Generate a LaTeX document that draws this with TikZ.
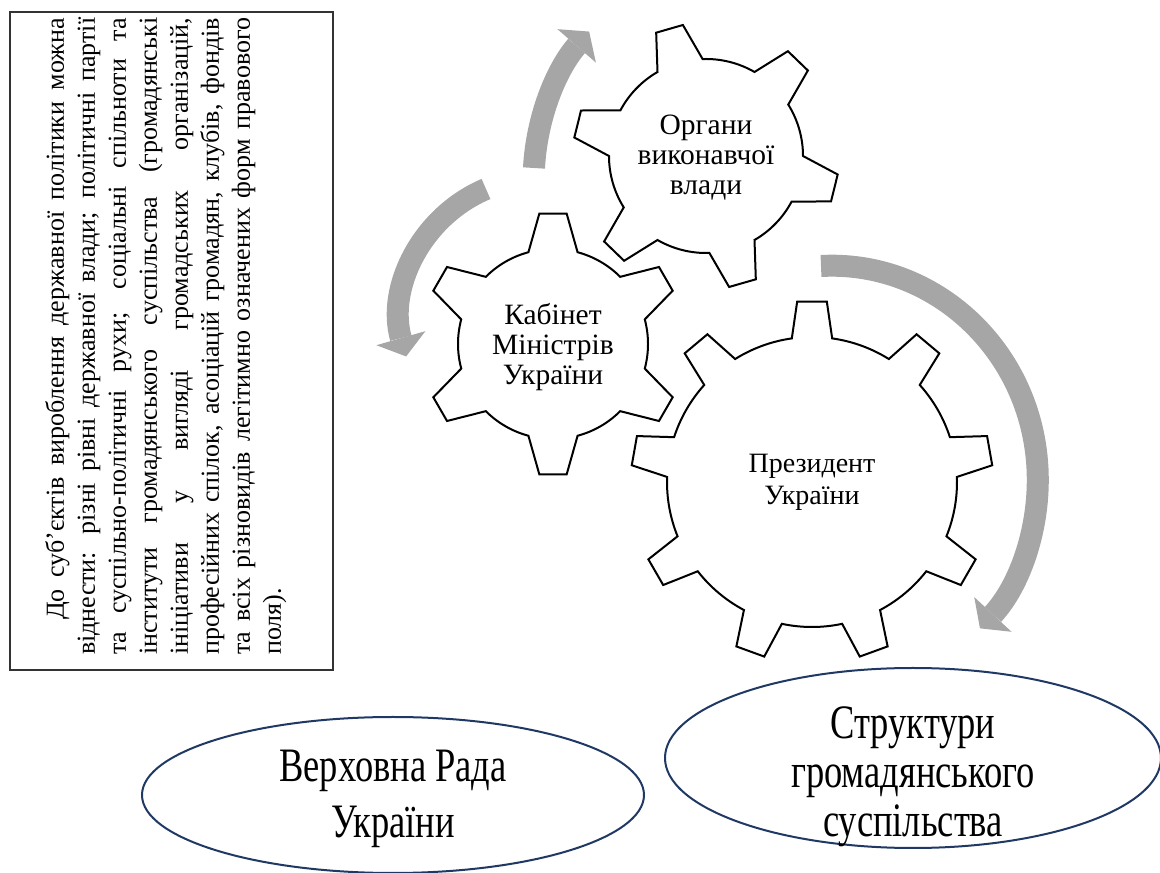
\documentclass[tikz,border=0pt]{standalone}
\usepackage{fontspec}
\setmainfont{Liberation Serif}
\newfontfamily\narrowserif[FakeStretch=0.76]{Liberation Serif}
\usetikzlibrary{arrows.meta,shapes.geometric}
\definecolor{arrowgray}{RGB}{166,166,166}
\definecolor{ovalblue}{RGB}{32,56,100}
\tikzset{
  gearline/.style={draw=black,line width=2pt,fill=white,line join=miter},
  bentarrow/.style={draw=arrowgray,line width=22pt,
    -{Triangle[length=19pt,width=51pt,line width=0pt]}},
  geartext/.style={align=center,font=\fontsize{29.5}{30}\selectfont},
  oval/.style={ellipse,draw=ovalblue,line width=2pt,inner sep=0pt},
  ovaltext/.style={align=center,font=\narrowserif\fontsize{48}{56}\selectfont}
}
\begin{document}
\begin{tikzpicture}[x=1pt,y=1pt]
      \useasboundingbox (0,0) rectangle (1160,873);

      % note box on the left
      \draw[black!80,line width=1.5pt] (10,861) rectangle (333,203);
      \node[rotate=90,anchor=north west,inner sep=0pt,text width=637pt,
            align=justify,font=\fontsize{26}{31}\selectfont] (note) at (45,218)
            {\hyphenpenalty=10000\exhyphenpenalty=10000
             \hspace*{35pt}До суб’єктів вироблення державної політики можна\linebreak
             віднести: різні рівні державної влади; політичні партії\linebreak
             та суспільно-політичні рухи; соціальні спільноти та\linebreak
             інститути громадянського суспільства (громадянські\linebreak
             ініціативи у вигляді громадських організацій,\linebreak
             професійних спілок, асоціацій громадян, клубів, фондів\linebreak
             та всіх різновидів легітимно означених форм правового\linebreak
             поля).};

      % arrows
      \draw[bentarrow] (534,705) arc(177:139:226);
      \draw[bentarrow] (486,684) arc(113:196:140);
      \draw[bentarrow] (821,607)
            arc[start angle=93,end angle=-44,x radius=206,y radius=214];

      % gears
      \begin{scope}[shift={(706,717)}]
        \draw[gearline] ({106+14}:97) \foreach \k in {1,...,6} {
              arc[start angle=106+(\k-1)*60+14,end angle=106+\k*60-14,radius=97]
              -- ({106+\k*60-6}:133) -- ({106+\k*60+6}:133)
              -- ({106+\k*60+14}:97)} -- cycle;
        \node[geartext] (organy) at (0,-2) {Органи\\виконавчої\\влади};
      \end{scope}

      \begin{scope}[shift={(553,529)}]
        \draw[gearline] ({90+15}:95) \foreach \k in {1,...,6} {
              arc[start angle=90+(\k-1)*60+15,end angle=90+\k*60-15,radius=95]
              -- ({90+\k*60-6}:131) -- ({90+\k*60+6}:131)
              -- ({90+\k*60+15}:95)} -- cycle;
        \node[geartext] (kabmin) at (0,-3) {Кабінет\\Міністрів\\України};
      \end{scope}

      \begin{scope}[shift={(812,391)}]
        \draw[gearline] ({90+8}:145) \foreach \k in {1,...,9} {
              arc[start angle=90+(\k-1)*40+8,end angle=90+\k*40-8,radius=145]
              -- ({90+\k*40-4.7}:181) -- ({90+\k*40+4.7}:181)
              -- ({90+\k*40+8}:145)} -- cycle;
        \node[geartext,font=\fontsize{28}{32}\selectfont] (president) at (0,0)
              {Президент\\України};
      \end{scope}

      % ovals
      \node[oval,minimum width=502pt,minimum height=156pt] (rada) at (393,78) {};
      \node[ovaltext] (radatext) at (393,74) {Верховна Рада\\України};
      \node[oval,minimum width=496pt,minimum height=180pt] (civil) at (913,115) {};
      \node[ovaltext,font=\narrowserif\fontsize{48}{49}\selectfont] (civiltext)
            at (913,96) {Структури\\громадянського\\суспільства};
\end{tikzpicture}
\end{document}
